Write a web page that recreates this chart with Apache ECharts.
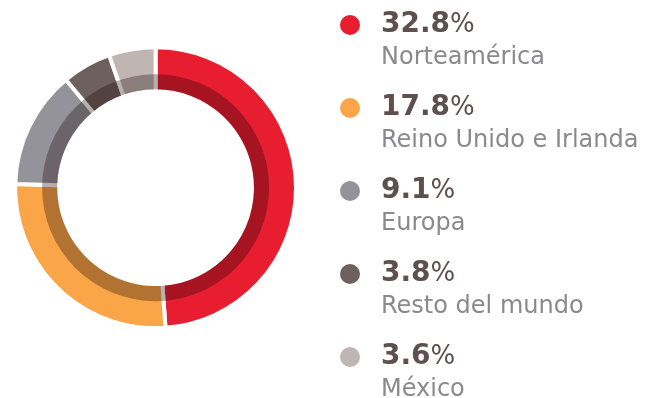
<!DOCTYPE html>
<html>
<head>
<meta charset="utf-8">
<style>
  html, body { margin: 0; padding: 0; background: #ffffff; }
  #chart { width: 647px; height: 398px; }
</style>
<script src="https://cdn.jsdelivr.net/npm/echarts@6/dist/echarts.min.js"></script>
</head>
<body>
<div id="chart"></div>
<script>
// Revenue share by region
const regions = ['Norteamérica', 'Reino Unido e Irlanda', 'Europa', 'Resto del mundo', 'México'];
const shares = [32.8, 17.8, 9.1, 3.8, 3.6];
const colors = ['#E81E30', '#F9A548', '#939399', '#6E605D', '#BFB6B4'];

const chart = echarts.init(document.getElementById('chart'), null, { renderer: 'canvas' });

const center = [155.6, 187.7];
const border = 4;

// Rich styles: one coloured dot style per region plus value / name text
const rich = {
  v: { fontFamily: 'DejaVu Sans', fontSize: 28, fontWeight: 'bold', color: '#5E504F', lineHeight: 36, verticalAlign: 'middle' },
  p: { fontFamily: 'DejaVu Sans', fontSize: 26, color: '#5E504F', lineHeight: 36, verticalAlign: 'middle' },
  n: { fontFamily: 'DejaVu Sans', fontSize: 24, color: '#8A898D', lineHeight: 30, verticalAlign: 'middle' },
  g1: { width: 21, height: 20 },
  g2: { width: 41, height: 20 }
};
colors.forEach((c, i) => {
  rich['d' + i] = { width: 20, height: 20, borderRadius: 10, backgroundColor: c, verticalAlign: 'middle' };
});

chart.setOption({
  animation: false,
  legend: {
    type: 'plain',
    orient: 'vertical',
    left: 328,
    top: 6,
    width: 319,
    height: 480,
    padding: 5,
    itemGap: 24,
    itemWidth: 1,
    itemHeight: 1,
    itemStyle: { opacity: 0 },
    selectedMode: false,
    data: regions,
    formatter: function (name) {
      const i = regions.indexOf(name);
      const val = shares[i].toFixed(1);
      return '{d' + i + '|}{g1|}{v|' + val + '}{p|%}\n{g2|}{n|' + name + '}';
    },
    textStyle: { rich: rich }
  },
  series: [
    {
      type: 'pie',
      center: center,
      radius: [98.4 - border / 2, 138.4 + border / 2],
      startAngle: 90,
      clockwise: true,
      label: { show: false },
      labelLine: { show: false },
      emphasis: { disabled: true },
      silent: true,
      itemStyle: { borderColor: '#ffffff', borderWidth: border },
      data: regions.map((r, i) => ({ name: r, value: shares[i], itemStyle: { color: colors[i] } }))
    },
    {
      // darker inner band laid over the ring
      type: 'pie',
      center: center,
      radius: [98.4, 113.5],
      label: { show: false },
      labelLine: { show: false },
      emphasis: { disabled: true },
      silent: true,
      z: 3,
      data: [{ name: 'banda', value: 1, itemStyle: { color: 'rgba(20,0,0,0.31)' } }]
    }
  ]
});
</script>
</body>
</html>
